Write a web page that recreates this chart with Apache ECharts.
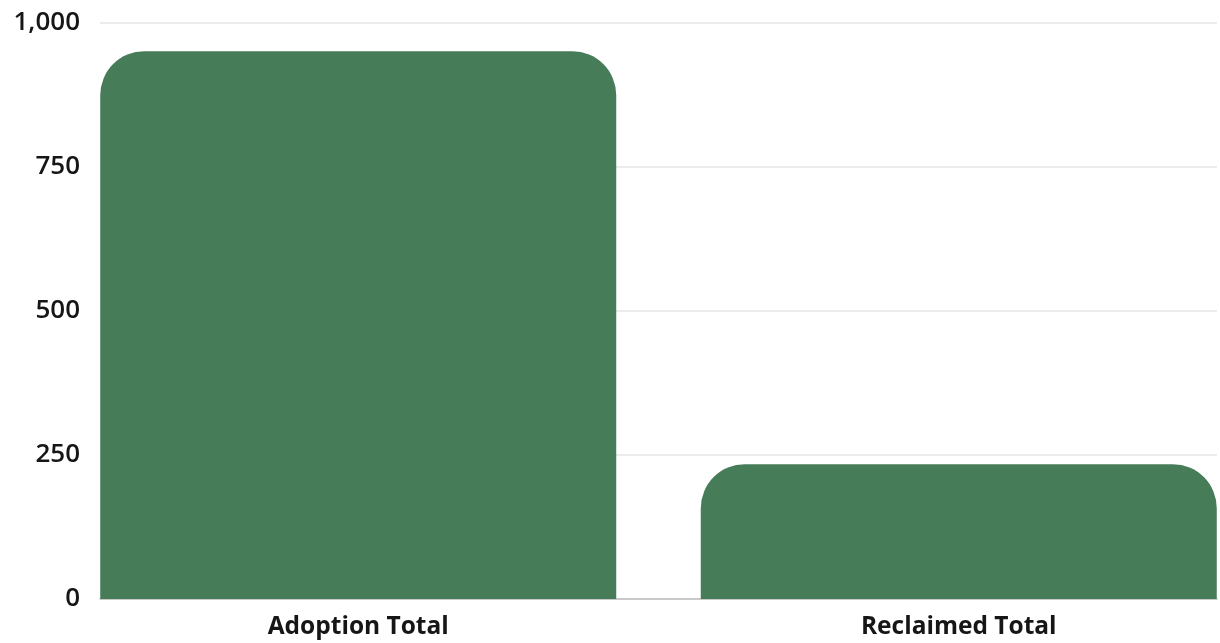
<!DOCTYPE html>
<html>
<head>
<meta charset="utf-8">
<style>html,body{margin:0;padding:0;background:#fff;}#c{width:1220px;height:643px;}</style>
<script src="https://cdn.jsdelivr.net/npm/echarts@6/dist/echarts.min.js"></script>
</head>
<body>
<div id="c"></div>
<script>
var categories = ['Adoption Total', 'Reclaimed Total'];
var values = [951, 234];
var yTicks = [0, 250, 500, 750, 1000];

var chart = echarts.init(document.getElementById('c'));
var fontFam = '"Open Sans", "Noto Sans", sans-serif';
chart.setOption({
  animation: false,
  grid: { left: 100, right: 3, top: 23, bottom: 44, containLabel: false },
  xAxis: {
    type: 'value',
    min: -0.43, max: 1.43,
    splitLine: { show: false },
    axisLine: { show: true, onZero: false, lineStyle: { color: '#bdbdbd', width: 1.5 } },
    axisTick: { show: false },
    axisLabel: {
      customValues: categories.map(function (c, i) { return i; }),
      formatter: function (v) { return categories[Math.round(v)] || ''; },
      margin: 16, fontSize: 24.5, fontWeight: 'bold', color: '#161616', fontFamily: fontFam
    }
  },
  yAxis: {
    type: 'value',
    min: 0, max: 1000, interval: 250,
    axisLine: { show: false },
    axisTick: { show: false },
    splitLine: { lineStyle: { color: '#e6e6e6', width: 1.5 } },
    axisLabel: {
      margin: 20, fontSize: 26, fontWeight: 600, color: '#161616', fontFamily: fontFam,
      formatter: function (v) { return v.toLocaleString('en-US'); }
    }
  },
  series: [{
    type: 'bar',
    data: values.map(function (v, i) { return [i, v]; }),
    barWidth: 516,
    itemStyle: { color: '#477c59', borderRadius: [44, 44, 0, 0] }
  }]
});
</script>
</body>
</html>
